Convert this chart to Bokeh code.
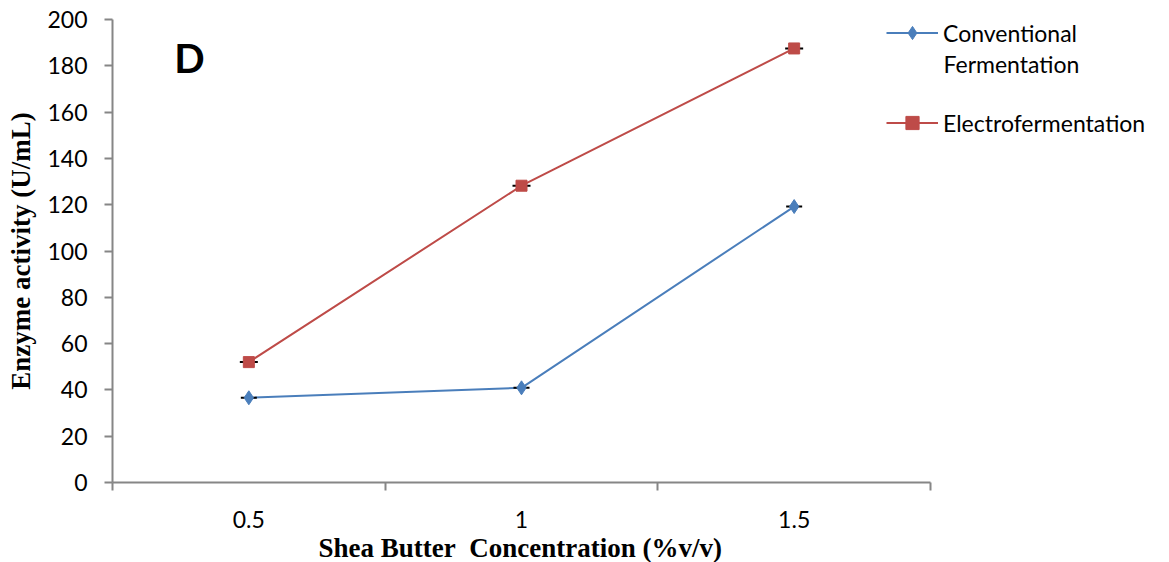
from bokeh.plotting import figure
from bokeh.models import (Range1d, FixedTicker, Legend, LegendItem, Label, Title)
from bokeh.embed import file_html
from bokeh.resources import INLINE

categories = ["0.5", "1", "1.5"]
conventional = [36.6, 40.9, 119.2]
electro = [52.0, 128.2, 187.5]
y_ticks = [0, 20, 40, 60, 80, 100, 120, 140, 160, 180, 200]

n = len(categories)
xpos = [i + 0.5 for i in range(n)]

# frame spans to the right edge so the legend (drawn inside) is not clipped;
# the x axis line is bounded to the category span
cat_px = 818 / n
x_end = n + (1160 - 930) / cat_px

p = figure(width=1165, height=562, output_backend="svg", toolbar_location=None,
           x_range=Range1d(0, x_end), y_range=Range1d(0, 200),
           min_border_left=112, min_border_right=5, min_border_top=19,
           min_border_bottom=78)
p.outline_line_color = None
p.grid.grid_line_color = None
p.background_fill_color = "white"

axis_color = "#868686"
tick_font = "Lato"

# x axis
p.xaxis.bounds = (0, n)
p.xaxis.ticker = FixedTicker(ticks=xpos, minor_ticks=list(range(n + 1)))
p.xaxis.major_label_overrides = {x: c for x, c in zip(xpos, categories)}
p.xaxis.major_tick_out = 0
p.xaxis.major_tick_in = 0
p.xaxis.minor_tick_out = 8
p.xaxis.minor_tick_in = 0
p.xaxis.minor_tick_line_color = axis_color
p.xaxis.minor_tick_line_width = 2
p.xaxis.axis_line_color = axis_color
p.xaxis.axis_line_width = 2
p.xaxis.major_label_text_font = tick_font
p.xaxis.major_label_text_font_size = "23px"
p.xaxis.major_label_text_color = "black"
p.xaxis.major_label_standoff = 20

# x axis title, centred under the category span (not the whole frame)
xtitle = Title(text="Shea Butter\u00a0\u00a0Concentration (%v/v)", align="left",
               offset=206, standoff=0, text_font="Liberation Serif",
               text_font_style="bold", text_font_size="27px", text_color="black")
p.add_layout(xtitle, "below")

# y axis
p.yaxis.ticker = FixedTicker(ticks=y_ticks, minor_ticks=[])
p.yaxis.major_tick_out = 8
p.yaxis.major_tick_in = 0
p.yaxis.major_tick_line_color = axis_color
p.yaxis.major_tick_line_width = 2
p.yaxis.axis_line_color = axis_color
p.yaxis.axis_line_width = 2
p.yaxis.major_label_text_font = tick_font
p.yaxis.major_label_text_font_size = "23px"
p.yaxis.major_label_text_color = "black"
p.yaxis.major_label_standoff = 17
p.yaxis.axis_label = "Enzyme activity (U/mL)"
p.yaxis.axis_label_text_font = "Liberation Serif"
p.yaxis.axis_label_text_font_style = "bold"
p.yaxis.axis_label_text_font_size = "27px"
p.yaxis.axis_label_text_color = "black"
p.yaxis.axis_label_standoff = 8

blue = "#4A7EBB"
red = "#BE4B48"

l1 = p.line(xpos, conventional, line_color=blue, line_width=2)
l2 = p.line(xpos, electro, line_color=red, line_width=2)
# zero-length error bar caps
p.scatter(xpos, conventional, marker="dash", size=16, line_color="black", line_width=2)
p.scatter(xpos, electro, marker="dash", size=18, line_color="black", line_width=2)
m1 = p.scatter(xpos, conventional, marker="diamond", size=14, fill_color=blue, line_color=blue)
m2 = p.scatter(xpos, electro, marker="square", size=11, fill_color=red, line_color=red)

lab = Label(x=0.282, y=183.4, text="D", text_font="Lato", text_font_style="bold",
            text_font_size="40px", text_baseline="middle", text_align="center",
            text_color="black")
p.add_layout(lab)

legend = Legend(items=[
    LegendItem(label="Conventional", renderers=[l1, m1]),
    LegendItem(label="Electrofermentation", renderers=[l2, m2]),
], location=(774, 343), label_text_font=tick_font, label_text_font_size="23px",
    label_text_color="black",
    glyph_width=52, glyph_height=33, label_height=33, label_standoff=5, spacing=57,
    border_line_color=None, background_fill_alpha=0, margin=0, padding=0)
p.add_layout(legend)

second_line = Label(x=n + (943 - 930) / cat_px, y=180.6, text="Fermentation",
                    text_font=tick_font, text_font_size="23px", text_baseline="middle",
                    text_color="black")
p.add_layout(second_line)

open("out.html", "w").write(file_html(p, INLINE))
